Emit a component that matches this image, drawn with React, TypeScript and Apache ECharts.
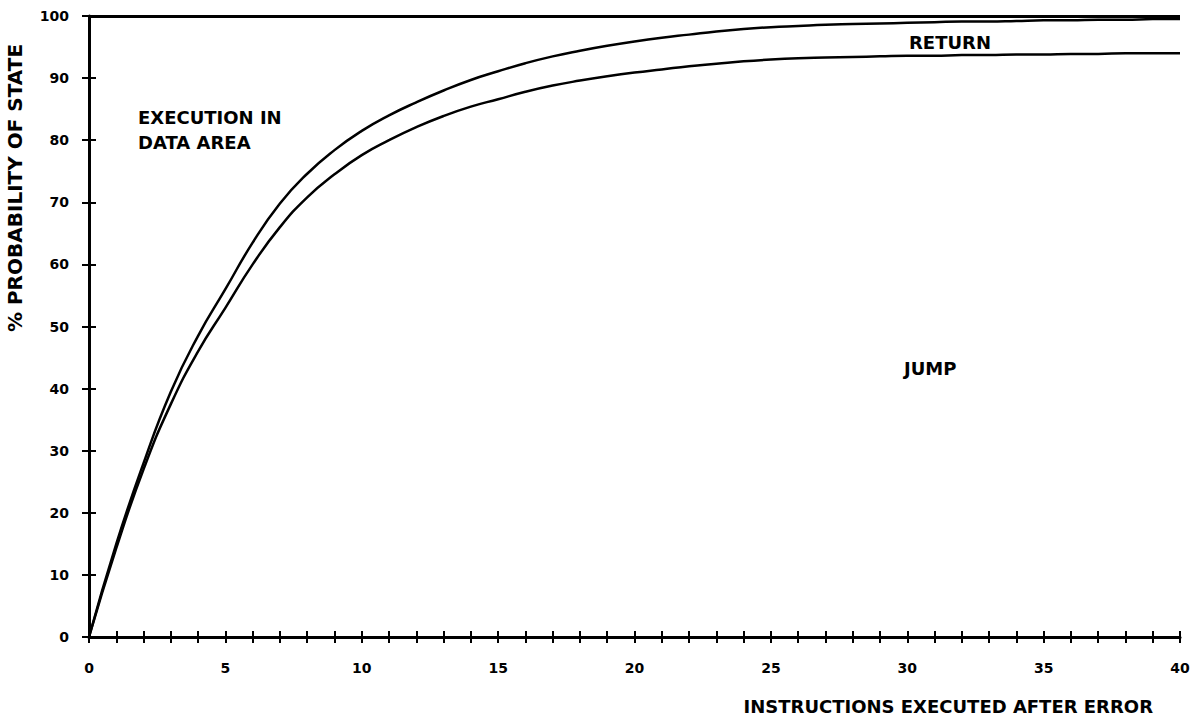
import React, { useEffect, useRef } from "react";
import * as echarts from "echarts";

// Instructions executed after error (x values)
const instructions = [
  0, 1, 2, 3, 4, 5, 6, 7, 8, 9, 10, 11, 12, 13, 14, 15, 16, 17, 18, 19, 20,
  21, 22, 23, 24, 25, 26, 27, 28, 29, 30, 31, 32, 33, 34, 35, 36, 37, 38, 39, 40,
];

// Cumulative % probability: JUMP + RETURN (upper curve)
const jumpPlusReturn = [
  0, 15, 28, 39.5, 48.5, 56, 63.5, 69.8, 74.6, 78.4, 81.5, 84, 86.1, 88, 89.7,
  91.1, 92.4, 93.5, 94.4, 95.2, 95.9, 96.5, 97, 97.5, 97.9, 98.2, 98.4, 98.6,
  98.7, 98.8, 98.9, 99, 99.1, 99.1, 99.2, 99.3, 99.3, 99.4, 99.4, 99.5, 99.5,
];

// % probability: JUMP (lower curve)
const jump = [
  0, 14.3, 27, 37.5, 46, 53, 60, 66, 70.8, 74.5, 77.6, 80, 82.1, 83.9, 85.4,
  86.6, 87.8, 88.8, 89.6, 90.3, 90.9, 91.4, 91.9, 92.3, 92.7, 93, 93.2, 93.3,
  93.4, 93.5, 93.6, 93.6, 93.7, 93.7, 93.8, 93.8, 93.9, 93.9, 94, 94, 94,
];

const totalLevel = 100;

const regionLabels = [
  { text: "EXECUTION IN\nDATA AREA", x: 138, y: 105 },
  { text: "RETURN", x: 909, y: 30 },
  { text: "JUMP", x: 904, y: 356 },
];

const xAxisTitle = "INSTRUCTIONS EXECUTED AFTER ERROR";
const yAxisTitle = "% PROBABILITY OF STATE";

const FONT = "DejaVu Sans";

export default function App() {
  const ref = useRef<HTMLDivElement>(null);

  useEffect(() => {
    document.body.style.margin = "0";
    if (!ref.current) return;
    const chart = echarts.init(ref.current, undefined, { renderer: "svg" });

    const black = "#000";
    const tickStyle = { color: black, width: 2 };
    const labelStyle = {
      color: black,
      fontFamily: FONT,
      fontWeight: "bold" as const,
      fontSize: 14,
    };

    const toPairs = (ys: number[]) => instructions.map((x, i) => [x, ys[i]]);

    chart.setOption({
      animation: false,
      backgroundColor: "#fff",
      grid: { left: 89, right: 21, top: 16, bottom: 88 },
      xAxis: [
        {
          type: "value",
          min: 0,
          max: 40,
          interval: 1,
          position: "bottom",
          axisLine: { show: true, lineStyle: { color: black, width: 3 } },
          axisTick: { show: true, length: 6, lineStyle: tickStyle },
          axisLabel: {
            ...labelStyle,
            margin: 24,
            formatter: (v: number) => (v % 5 === 0 ? String(v) : ""),
          },
          splitLine: { show: false },
        },
        {
          type: "value",
          min: 0,
          max: 40,
          interval: 1,
          position: "bottom",
          axisLine: { show: false },
          axisTick: { show: true, inside: true, length: 6, lineStyle: tickStyle },
          axisLabel: { show: false },
          splitLine: { show: false },
        },
      ],
      yAxis: [
        {
          type: "value",
          min: 0,
          max: 100,
          interval: 10,
          position: "left",
          axisLine: { show: true, lineStyle: { color: black, width: 3 } },
          axisTick: { show: true, length: 7, lineStyle: tickStyle },
          axisLabel: { ...labelStyle, margin: 20 },
          splitLine: { show: false },
        },
        {
          type: "value",
          min: 0,
          max: 100,
          interval: 10,
          position: "left",
          axisLine: { show: false },
          axisTick: { show: true, inside: true, length: 7, lineStyle: tickStyle },
          axisLabel: { show: false },
          splitLine: { show: false },
        },
      ],
      series: [
        {
          name: "JUMP + RETURN",
          type: "line",
          data: toPairs(jumpPlusReturn),
          symbol: "none",
          smooth: true,
          lineStyle: { color: black, width: 2.5 },
          markLine: {
            silent: true,
            symbol: "none",
            label: { show: false },
            lineStyle: { color: black, width: 3, type: "solid" },
            data: [{ yAxis: totalLevel }],
          },
        },
        {
          name: "JUMP",
          type: "line",
          data: toPairs(jump),
          symbol: "none",
          smooth: true,
          lineStyle: { color: black, width: 2.5 },
        },
      ],
      graphic: [
        ...regionLabels.map((l) => ({
          type: "text",
          left: l.x,
          top: l.y,
          style: {
            text: l.text,
            fill: black,
            font: `bold 18px "${FONT}"`,
            lineHeight: 25,
          },
        })),
        {
          type: "text",
          x: 1153,
          y: 706,
          style: {
            text: xAxisTitle,
            fill: black,
            font: `bold 18px "${FONT}"`,
            textAlign: "right",
            textVerticalAlign: "middle",
          },
        },
        {
          type: "text",
          x: 15,
          y: 188,
          rotation: Math.PI / 2,
          style: {
            text: yAxisTitle,
            fill: black,
            font: `bold 20px "${FONT}"`,
            textAlign: "center",
            textVerticalAlign: "middle",
          },
        },
      ],
    });

    return () => chart.dispose();
  }, []);

  return <div ref={ref} style={{ width: 1201, height: 725 }} />;
}
